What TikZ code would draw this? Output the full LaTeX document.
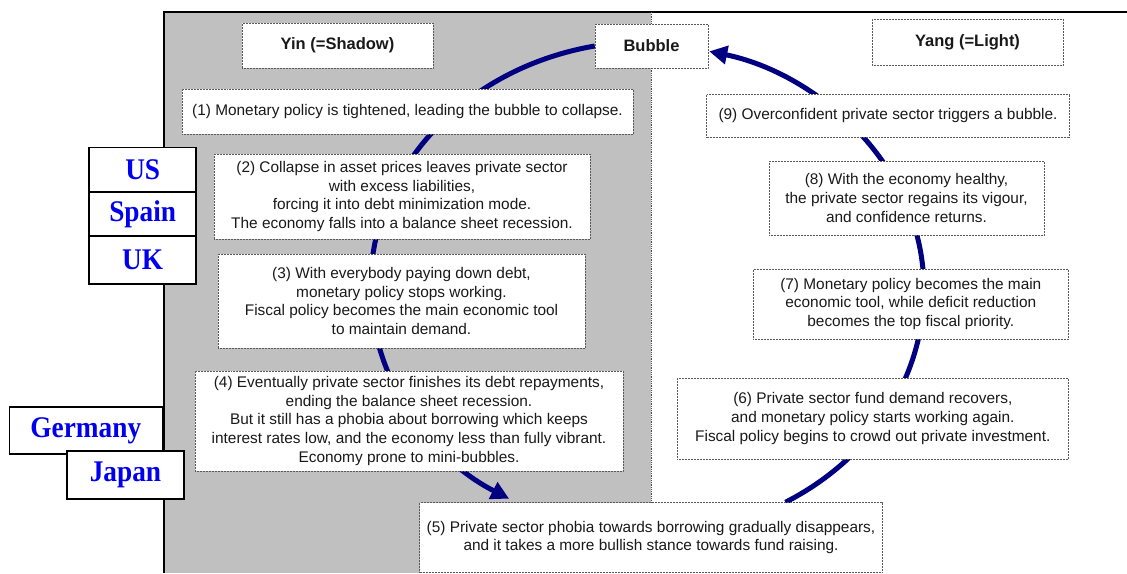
\documentclass[tikz,border=0pt]{standalone}
\usepackage{fontspec}
\setmainfont{Liberation Sans}
\newfontfamily\countryfont[FakeStretch=0.91]{Liberation Serif}
\usetikzlibrary{arrows.meta,calc,backgrounds}
\definecolor{cyclenavy}{RGB}{0,0,128}
\definecolor{shadowgray}{RGB}{192,192,192}
\definecolor{countryblue}{RGB}{0,0,238}
\tikzset{
  stepbox/.style={draw=black!65, densely dotted, line width=0.5pt, fill=white, align=center,
    inner sep=0pt, text=black!90, font=\fontsize{15.4}{18.6}\selectfont},
  titlebox/.style={stepbox, font=\fontsize{16.5}{19}\selectfont\bfseries},
  countrybox/.style={draw=black, solid, line width=1.6pt, fill=white, inner sep=0pt,
    text=countryblue, font=\countryfont\fontsize{30}{32}\selectfont\bfseries},
  cyclearrow/.style={cyclenavy, line width=5pt, -{Triangle[length=18pt,width=18pt]}}
}
\begin{document}
\begin{tikzpicture}
    \def\x{1pt}
    \def\y{-1pt}
    \useasboundingbox (0*\x, 0*\y) rectangle (1127*\x, 573*\y);
    \begin{scope}[on background layer]
      \fill[shadowgray] (164*\x, 12*\y) rectangle (651*\x, 573*\y);
      \draw[line width=1.3pt] (164*\x, 573*\y) -- (164*\x, 12*\y) -- (1127*\x, 12*\y);
      \draw[densely dotted, line width=0.8pt, black!70] (651*\x, 12*\y) -- (651*\x, 502*\y);
    \end{scope}
    \node[titlebox, minimum width=191pt, minimum height=45pt] (Yin) at (337.5*\x, 45.5*\y) {Yin (=Shadow)};
    \node[titlebox, minimum width=113pt, minimum height=44pt] (Bubble) at (651.5*\x, 46*\y) {Bubble};
    \node[titlebox, minimum width=191pt, minimum height=46pt] (Yang) at (967.5*\x, 42*\y) {Yang (=Light)};
    \node[stepbox, minimum width=451pt, minimum height=45pt] (S1) at (407.5*\x, 111.5*\y)
      {(1) Monetary policy is tightened, leading the bubble to collapse.};
    \node[stepbox, minimum width=376pt, minimum height=85pt] (S2) at (402*\x, 196.5*\y)
      {(2) Collapse in asset prices leaves private sector\\ with excess liabilities,\\
       forcing it into debt minimization mode.\\ The economy falls into a balance sheet recession.};
    \node[stepbox, minimum width=367pt, minimum height=94pt] (S3) at (401.5*\x, 301*\y)
      {(3) With everybody paying down debt,\\ monetary policy stops working.\\
       Fiscal policy becomes the main economic tool\\ to maintain demand.};
    \node[stepbox, minimum width=428pt, minimum height=100pt] (S4) at (409*\x, 421*\y)
      {(4) Eventually private sector finishes its debt repayments,\\ ending the balance sheet recession.\\
       But it still has a phobia about borrowing which keeps\\
       interest rates low, and the economy less than fully vibrant.\\ Economy prone to mini-bubbles.};
    \node[stepbox, minimum width=463pt, minimum height=70pt] (S5) at (651*\x, 537.5*\y)
      {(5) Private sector phobia towards borrowing gradually disappears,\\
       and it takes a more bullish stance towards fund raising.};
    \node[stepbox, minimum width=391pt, minimum height=81pt] (S6) at (872.8*\x, 418.5*\y)
      {(6) Private sector fund demand recovers,\\ and monetary policy starts working again.\\
       Fiscal policy begins to crowd out private investment.};
    \node[stepbox, minimum width=315pt, minimum height=70pt] (S7) at (910.8*\x, 304*\y)
      {(7) Monetary policy becomes the main\\ economic tool, while deficit reduction\\
       becomes the top fiscal priority.};
    \node[stepbox, minimum width=275pt, minimum height=74pt] (S8) at (906.5*\x, 198*\y)
      {(8) With the economy healthy,\\ the private sector regains its vigour,\\ and confidence returns.};
    \node[stepbox, minimum width=363pt, minimum height=43pt] (S9) at (888*\x, 115.5*\y)
      {(9) Overconfident private sector triggers a bubble.};
    \node[countrybox, minimum width=107pt, minimum height=45pt] (US) at (142.7*\x, 169.8*\y) {US};
    \node[countrybox, minimum width=107pt, minimum height=44pt] (Spain) at (142.7*\x, 214.2*\y) {Spain};
    \node[countrybox, minimum width=107pt, minimum height=48pt] (UK) at (142.7*\x, 260.2*\y) {UK};
    \node[countrybox, minimum width=153pt, minimum height=47pt] (Germany) at (85.8*\x, 430.4*\y) {Germany};
    \node[countrybox, minimum width=117pt, minimum height=48pt] (Japan) at (125.5*\x, 475.2*\y) {Japan};
    \coordinate (S5in) at ($(S5.north west)!0.79!(S5.north east)$);
    \begin{scope}[on background layer]
      \draw[cyclearrow] (Bubble.west) arc[start angle=101, end angle=240, x radius=277pt, y radius=245pt];
      \draw[cyclearrow] (S5in) arc[start angle=-60, end angle=77, x radius=277pt, y radius=245pt];
    \end{scope}
\end{tikzpicture}
\end{document}
